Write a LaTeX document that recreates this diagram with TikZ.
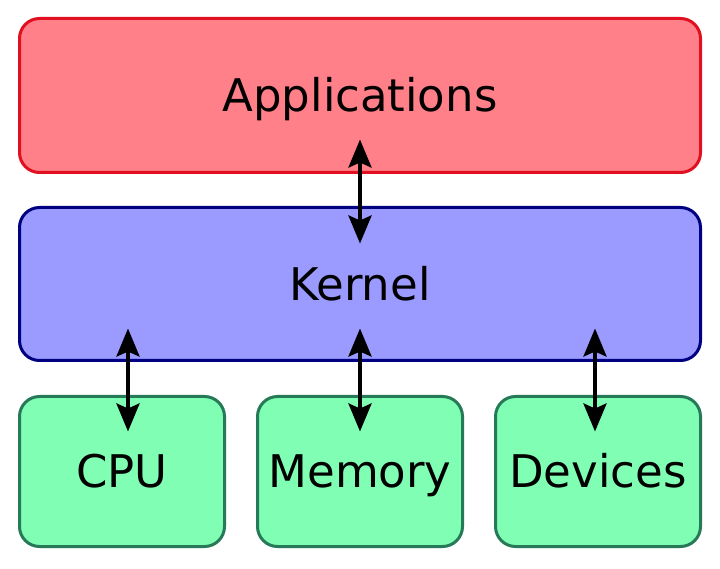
\documentclass[tikz,border=0pt]{standalone}
\usepackage{fontspec}
\setmainfont{DejaVu Sans}
\usetikzlibrary{arrows.meta,calc}
\definecolor{appfill}{HTML}{FF8088}
\definecolor{appdraw}{HTML}{E01020}
\definecolor{kerfill}{HTML}{9A9AFF}
\definecolor{kerdraw}{HTML}{000080}
\definecolor{hwfill}{HTML}{80FFB4}
\definecolor{hwdraw}{HTML}{267A58}
\tikzset{
  layer/.style={rounded corners=20pt, line width=3pt, outer sep=0pt,
    inner sep=0pt, text height=32.5pt, text depth=0pt,
    font=\fontsize{45}{54}\selectfont},
  appbox/.style={layer, fill=appfill, draw=appdraw, minimum width=681pt, minimum height=154pt},
  kerbox/.style={layer, fill=kerfill, draw=kerdraw, minimum width=681pt, minimum height=153pt},
  hwbox/.style={layer, fill=hwfill, draw=hwdraw, minimum width=205pt, minimum height=150pt},
  arr/.style={line width=4pt, {Stealth[length=28pt,width=23pt,inset=5pt]}-{Stealth[length=28pt,width=23pt,inset=5pt]}}
}
\begin{document}
\begin{tikzpicture}[x=1pt,y=1pt]
\useasboundingbox[fill=white] (0,0) rectangle (720,568);
\node[appbox] (app) at (360,472.5) {Applications};
\node[kerbox] (kern) at (360,284) {Kernel};
\node[hwbox] (cpu) at (122,96.5) {CPU};
\node[hwbox] (mem) at (360,96.5) {Memory};
\node[hwbox] (dev) at (598,96.5) {Devices};
\draw[arr] ($(app.south)+(0,33)$) -- ($(kern.north)+(0,-36)$);
\draw[arr] ($(kern.south -| cpu.north)+(6,32)$) -- ($(cpu.north)+(6,-35)$);
\draw[arr] ($(kern.south -| mem.north)+(0,32)$) -- ($(mem.north)+(0,-35)$);
\draw[arr] ($(kern.south -| dev.north)+(-3,32)$) -- ($(dev.north)+(-3,-35)$);
\end{tikzpicture}
\end{document}
